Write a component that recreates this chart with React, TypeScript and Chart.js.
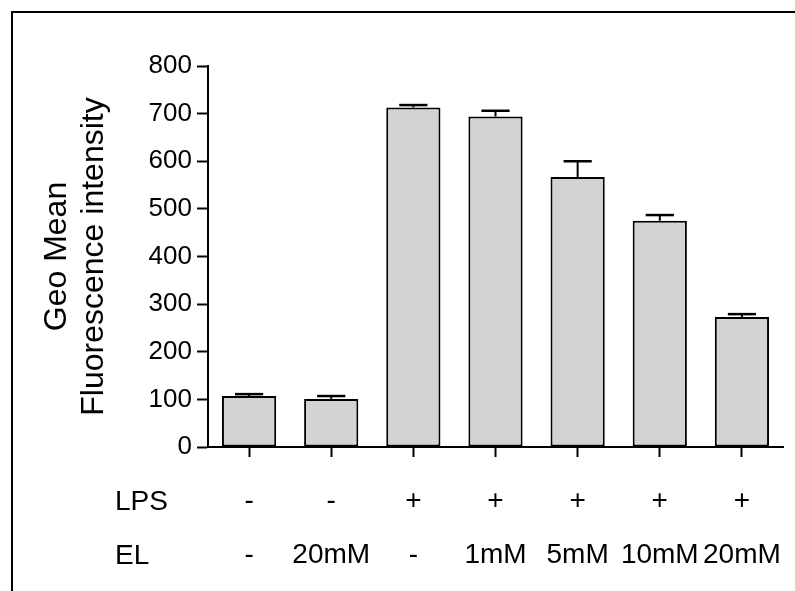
import React, { useEffect, useRef } from "react";
import { Chart, registerables } from "chart.js";

Chart.register(...registerables);

// ---- data ----
const lpsRow = ["-", "-", "+", "+", "+", "+", "+"];
const elRow = ["-", "20mM", "-", "1mM", "5mM", "10mM", "20mM"];
const meanValues = [107, 101, 713, 694, 567, 475, 273];
const errorValues = [4, 6, 5, 12, 33, 12, 6];
const rowHeaders = ["LPS", "EL"];
const yTitle = ["Geo Mean", "Fluorescence intensity"];
const yMin = 0;
const yMax = 800;
const yStep = 100;

const FONT = '"Liberation Sans", Arial, Helvetica, sans-serif';
const LABEL_SIZE = 28;
const Y_TICK_SIZE = 26;
const LABEL_LINE = 54;
const X_TICK_LEN = 10;
const X_TICK_PAD = 17;

const framePlugin = {
  id: "framePlugin",
  afterDraw(chart: any) {
    const ctx = chart.ctx;
    ctx.save();
    ctx.strokeStyle = "#000";
    ctx.lineWidth = 2;
    ctx.beginPath();
    ctx.moveTo(12, chart.height);
    ctx.lineTo(12, 12);
    ctx.lineTo(chart.width, 12);
    ctx.stroke();

    // row headers aligned with the x tick label lines
    const xs = chart.scales.x;
    const y0 = xs.top + 63;
    ctx.font = `${LABEL_SIZE}px ${FONT}`;
    ctx.fillStyle = "#000";
    ctx.textBaseline = "alphabetic";
    ctx.textAlign = "left";
    rowHeaders.forEach((h, i) => ctx.fillText(h, 115, y0 + i * LABEL_LINE));
    ctx.restore();
  },
};

const errorBarPlugin = {
  id: "errorBarPlugin",
  afterDatasetsDraw(chart: any) {
    const ctx = chart.ctx;
    const meta = chart.getDatasetMeta(0);
    const ys = chart.scales.y;
    ctx.save();
    ctx.strokeStyle = "#000";
    meta.data.forEach((bar: any, i: number) => {
      const x = bar.x;
      const yTop = ys.getPixelForValue(meanValues[i]);
      const yErr = ys.getPixelForValue(meanValues[i] + errorValues[i]);
      const half = bar.width * 0.26;
      ctx.lineWidth = 2;
      ctx.beginPath();
      ctx.moveTo(x, yTop);
      ctx.lineTo(x, yErr);
      ctx.stroke();
      ctx.lineWidth = 2.5;
      ctx.beginPath();
      ctx.moveTo(x - half, yErr);
      ctx.lineTo(x + half, yErr);
      ctx.stroke();
    });
    ctx.restore();
  },
};

export default function App() {
  const canvasRef = useRef<HTMLCanvasElement | null>(null);

  useEffect(() => {
    if (!canvasRef.current) return;
    const chart = new Chart(canvasRef.current, {
      type: "bar",
      data: {
        labels: lpsRow.map((l, i) => [l, elRow[i]]),
        datasets: [
          {
            data: meanValues,
            backgroundColor: "#d3d3d3",
            borderColor: "#000",
            borderWidth: 2,
            borderSkipped: false,
            categoryPercentage: 1,
            barPercentage: 0.66,
          },
        ],
      },
      options: {
        responsive: false,
        animation: false,
        devicePixelRatio: 1,
        layout: { padding: { left: 12, right: 12, top: 66, bottom: 0 } },
        plugins: {
          legend: { display: false },
          tooltip: { enabled: false },
          title: { display: false },
        },
        scales: {
          x: {
            afterFit(scale: any) {
              scale.height = 144;
              scale.paddingLeft = 0;
              scale.paddingRight = 0;
            },
            grid: {
              offset: false,
              drawOnChartArea: false,
              drawTicks: true,
              tickLength: X_TICK_LEN,
              tickWidth: 2,
              tickColor: "#000",
            },
            border: { display: true, color: "#000", width: 2 },
            ticks: {
              autoSkip: false,
              maxRotation: 0,
              minRotation: 0,
              padding: X_TICK_PAD,
              color: "#000",
              font: { family: FONT, size: LABEL_SIZE, lineHeight: LABEL_LINE / LABEL_SIZE },
            },
          },
          y: {
            min: yMin,
            max: yMax,
            afterFit(scale: any) {
              scale.width = 196;
            },
            grid: {
              drawOnChartArea: false,
              drawTicks: true,
              tickLength: 11,
              tickWidth: 2,
              tickColor: "#000",
            },
            border: { display: true, color: "#000", width: 2 },
            ticks: {
              stepSize: yStep,
              padding: 5,
              color: "#000",
              font: { family: FONT, size: Y_TICK_SIZE },
            },
            title: {
              display: true,
              text: yTitle,
              color: "#000",
              padding: { top: 27, bottom: 0 },
              font: { family: FONT, size: 32, lineHeight: 37 / 32 },
            },
          },
        },
      },
      plugins: [errorBarPlugin, framePlugin],
    });
    return () => chart.destroy();
  }, []);

  return (
    <div style={{ position: "fixed", left: 0, top: 0, width: 795, height: 591, background: "#fff" }}>
      <canvas ref={canvasRef} width={795} height={591} style={{ display: "block" }} />
    </div>
  );
}
